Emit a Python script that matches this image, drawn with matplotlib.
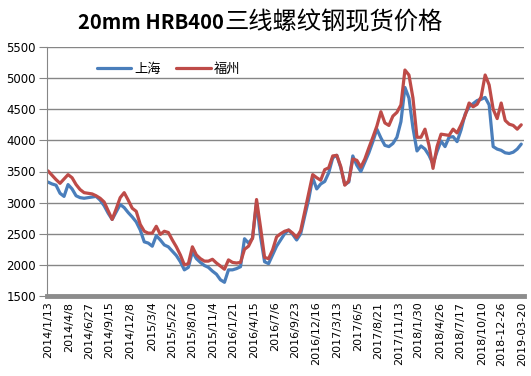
import matplotlib
matplotlib.use('Agg')
import matplotlib.pyplot as plt
import pandas as pd

plt.rcParams['font.family'] = ['Noto Sans CJK SC', 'DejaVu Sans']

# spot prices, yuan/ton, sampled every 16 days from 2014-01-13
start_date = '2014-01-13'
step = '16D'

shanghai = [
    3330, 3300, 3280, 3150, 3100, 3290, 3220, 3110, 3080, 3070,
    3080, 3090, 3100, 3040, 2950, 2830, 2730, 2850, 2970, 2920,
    2840, 2770, 2690, 2560, 2370, 2350, 2300, 2470, 2400, 2320,
    2290, 2220, 2150, 2050, 1920, 1960, 2210, 2100, 2040, 1990,
    1960, 1900, 1850, 1760, 1720, 1920, 1920, 1940, 1970, 2420,
    2350, 2430, 3000, 2450, 2050, 2020, 2160, 2300, 2400, 2500,
    2560, 2490, 2400, 2500, 2780, 3050, 3400, 3220, 3300, 3340,
    3480, 3720, 3760, 3560, 3290, 3330, 3750, 3600, 3500, 3650,
    3800, 3980, 4180, 4040, 3920, 3900, 3950, 4050, 4300, 4850,
    4680, 4200, 3830, 3910, 3860, 3760, 3620, 3820, 3990, 3900,
    4050, 4060, 3980, 4170, 4420, 4540, 4590, 4640, 4660, 4690,
    4570, 3900, 3860, 3840, 3800, 3790, 3810, 3860, 3940,
]
fuzhou = [
    3510, 3440, 3370, 3310, 3380, 3450, 3400, 3290, 3210, 3160,
    3150, 3140, 3110, 3070, 3010, 2870, 2730, 2900, 3080, 3160,
    3040, 2910, 2860, 2650, 2540, 2510, 2510, 2620, 2490, 2540,
    2520, 2400, 2290, 2160, 2000, 2020, 2290, 2160, 2100, 2060,
    2060, 2090, 2030, 1980, 1930, 2080, 2040, 2030, 2040, 2250,
    2300, 2430, 3050, 2600, 2120, 2100, 2240, 2450, 2500, 2540,
    2560, 2510, 2440, 2550, 2850, 3150, 3450, 3400, 3360, 3530,
    3560, 3750, 3760, 3580, 3280, 3350, 3700, 3680, 3570, 3700,
    3880, 4050, 4230, 4460, 4280, 4240, 4390, 4450, 4570, 5130,
    5050, 4680, 4050, 4050, 4180, 3920, 3550, 3900, 4100, 4090,
    4080, 4180, 4120, 4250, 4400, 4600, 4540, 4580, 4700, 5050,
    4890, 4500, 4350, 4600, 4320, 4260, 4240, 4180, 4250,
]

tick_labels = [
    '2014/1/13', '2014/4/8', '2014/6/27', '2014/9/15', '2014/12/8',
    '2015/3/4', '2015/5/22', '2015/8/10', '2015/11/4', '2016/1/21',
    '2016/4/15', '2016/7/6', '2016/9/23', '2016/12/16', '2017/3/13',
    '2017/6/5', '2017/8/21', '2017/11/13', '2018/1/30', '2018/4/26',
    '2018/7/17', '2018/10/10', '2018-12-26', '2019-03-20',
]

dates = pd.date_range(start_date, periods=len(shanghai), freq=step)
tick_dates = pd.to_datetime([t.replace('/', '-') for t in tick_labels])

fig = plt.figure(figsize=(5.31, 3.76), dpi=100)
ax = fig.add_axes([47 / 531, 80 / 376, 477 / 531, 249 / 376])

ax.plot(dates, shanghai, color='#4a7ebb', lw=2.3, label='上海', solid_capstyle='round')
ax.plot(dates, fuzhou, color='#be4b48', lw=2.3, label='福州', solid_capstyle='round')

ax.set_ylim(1500, 5500)
ax.set_yticks(range(1500, 5501, 500))
ax.set_xlim(pd.Timestamp('2014-01-09'), pd.Timestamp('2019-03-27'))
ax.set_xticks(tick_dates)
ax.set_xticklabels(tick_labels, rotation=90, family='DejaVu Sans', fontsize=8)
for lab in ax.get_yticklabels():
    lab.set_family('DejaVu Sans')
    lab.set_fontsize(8.5)

ax.grid(axis='y', color='#868686', lw=1)
ax.set_axisbelow(True)
for side in ('top', 'right'):
    ax.spines[side].set_visible(False)
ax.spines['left'].set_color('#868686')
ax.spines['bottom'].set_color('#8c8c8c')
ax.spines['bottom'].set_linewidth(3.5)
ax.tick_params(axis='y', length=6, color='#868686', pad=2)
ax.tick_params(axis='x', length=0, pad=4)

ax.legend(loc='upper left', bbox_to_anchor=(0.08, 0.985), ncol=2, frameon=False,
          fontsize=9.5, handlelength=2.6, handletextpad=0.2, columnspacing=1.2)

# title: latin part bold, chinese part regular
split_x = 224 / 531
fig.text(split_x, 0.94, '20mm HRB400', ha='right', va='center',
         fontsize=14.5, fontweight='bold')
fig.text(split_x, 0.94, '三线螺纹钢现货价格', ha='left', va='center',
         fontsize=17.5)

fig.savefig('out.png', dpi=100)
